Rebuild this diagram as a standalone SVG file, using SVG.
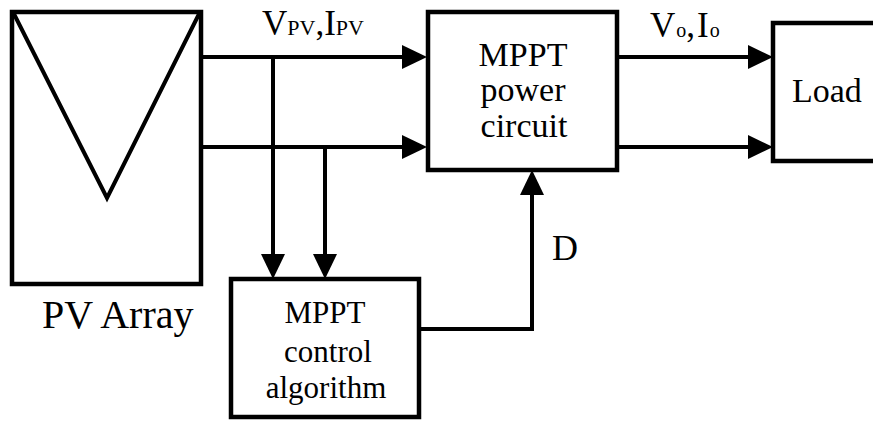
<svg xmlns="http://www.w3.org/2000/svg" width="873" height="421" viewBox="0 0 873 421">
<style>
.box{fill:#fff;stroke:#000;stroke-width:4.5}
.wire{fill:none;stroke:#000;stroke-width:4}
text{font-family:"Liberation Serif","Times New Roman",serif;fill:#000}
.lab{font-size:35px}
.sub{font-size:22px}
.sub2{font-size:20px}
.t{font-size:34px}
.s{font-size:31px}
.m{text-anchor:middle}
</style>
<defs>
<marker id="arr" markerUnits="userSpaceOnUse" markerWidth="26" markerHeight="26" refX="3" refY="12" orient="auto">
<path d="M0,0 L25,12 L0,24 Z" fill="#000"/>
</marker>
</defs>
<g id="pv-array">
<rect class="box" x="12" y="12" width="189" height="272"/>
<path class="wire" d="M14,14 L107,198 L199,14"/>
<text x="42" y="328" font-size="40">PV Array</text>
</g>
<g id="mppt-power">
<rect class="box" x="428" y="12" width="189" height="158"/>
<text class="t m" x="523" y="66">MPPT</text>
<text class="t m" x="523" y="101">power</text>
<text class="t m" x="524" y="137">circuit</text>
</g>
<g id="load">
<rect class="box" x="773" y="23" width="110" height="138"/>
<text x="792" y="102" font-size="34">Load</text>
</g>
<g id="mppt-control">
<rect class="box" x="231" y="279" width="188" height="138"/>
<text class="s m" x="325" y="323">MPPT</text>
<text class="s m" x="328" y="362">control</text>
<text class="s m" x="326" y="398">algorithm</text>
</g>
<g id="connectors">
<path class="wire" d="M201,57 H405" marker-end="url(#arr)"/>
<path class="wire" d="M201,147 H405" marker-end="url(#arr)"/>
<path class="wire" d="M273,57 V257" marker-end="url(#arr)"/>
<path class="wire" d="M325,147 V257" marker-end="url(#arr)"/>
<path class="wire" d="M617,57 H751" marker-end="url(#arr)"/>
<path class="wire" d="M617,147 H751" marker-end="url(#arr)"/>
<path class="wire" d="M419,329 H532 V192" marker-end="url(#arr)"/>
</g>
<g id="labels">
<text class="lab" x="262" y="35">V<tspan class="sub">PV</tspan>,I<tspan class="sub">PV</tspan></text>
<text class="lab" x="650" y="37">V<tspan class="sub2" dx="1">o</tspan>,<tspan dx="2">I</tspan><tspan class="sub2" dx="1">o</tspan></text>
<text x="552" y="260" font-size="36">D</text>
</g>
</svg>
